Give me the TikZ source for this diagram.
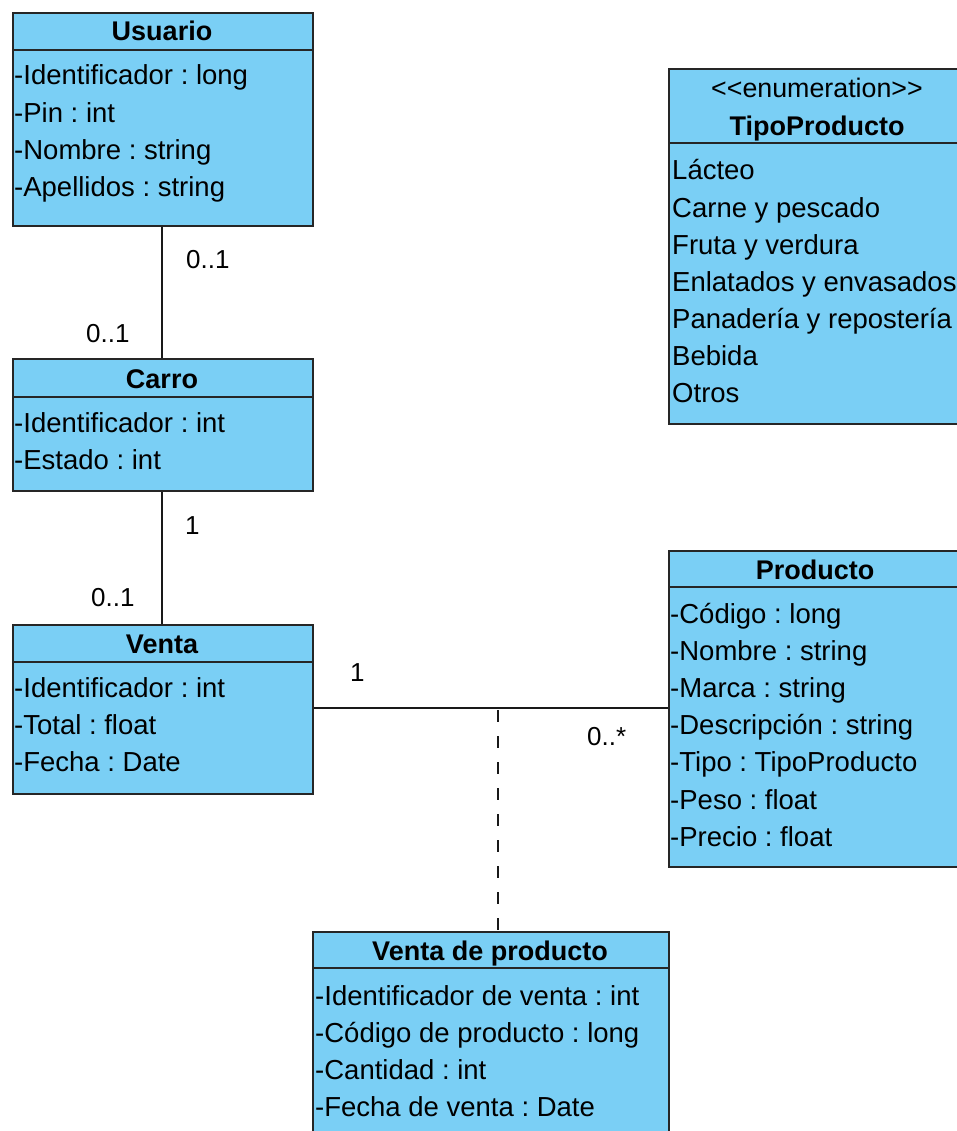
\documentclass[tikz,border=0pt]{standalone}
\usepackage{fontspec}
\setmainfont{Liberation Sans}
\frenchspacing
\begin{document}
\begin{tikzpicture}[x=1pt,y=-1pt,
  classbox/.style={draw=black!85, line width=2pt, fill=classfill, rectangle, inner sep=0pt, anchor=north west},
  divider/.style={draw=black!85, line width=2pt},
  attr/.style={anchor=base west, inner sep=0pt, font=\fontsize{27.5}{32}\selectfont},
  ctitle/.style={anchor=base, inner sep=0pt, font=\fontsize{27}{32}\selectfont\bfseries},
  stereo/.style={anchor=base, inner sep=0pt, font=\fontsize{26.8}{30}\selectfont},
  mult/.style={anchor=base west, inner sep=0pt, font=\fontsize{26}{30}\selectfont},
  assoc/.style={draw=black!90, line width=2pt},
  assocclass/.style={draw=black!90, line width=2pt, dash pattern=on 12pt off 14pt}]
\definecolor{classfill}{RGB}{122,207,245}
\clip (0,0) rectangle (957,1131);
\fill[white] (0,0) rectangle (957,1131);

% ---------- Usuario ----------
\node[classbox, minimum width=300pt, minimum height=213pt] (usuario) at (12,12) {};
\draw[divider] (usuario.west |- 0,50) -- (usuario.east |- 0,50);
\node[ctitle] (usuario-t) at (162,41) {Usuario};
\foreach \t [count=\i] in {-Identificador : long, -Pin : int, -Nombre : string, -Apellidos : string}
  \node[attr] (usuario-a\i) at (14,{85+37.3*(\i-1)}) {\t};

% ---------- Carro ----------
\node[classbox, minimum width=300pt, minimum height=132pt] (carro) at (12,358) {};
\draw[divider] (carro.west |- 0,397) -- (carro.east |- 0,397);
\node[ctitle] (carro-t) at (162,388) {Carro};
\foreach \t [count=\i] in {-Identificador : int, -Estado : int}
  \node[attr] (carro-a\i) at (14,{432+37.3*(\i-1)}) {\t};

% ---------- Venta ----------
\node[classbox, minimum width=300pt, minimum height=169pt] (venta) at (12,624) {};
\draw[divider] (venta.west |- 0,662) -- (venta.east |- 0,662);
\node[ctitle] (venta-t) at (162,653) {Venta};
\foreach \t [count=\i] in {-Identificador : int, -Total : float, -Fecha : Date}
  \node[attr] (venta-a\i) at (14,{697+37.3*(\i-1)}) {\t};

% ---------- TipoProducto (enumeration) ----------
\node[classbox, minimum width=300pt, minimum height=355pt] (tipo) at (668,68) {};
\draw[divider] (tipo.west |- 0,143) -- (tipo.east |- 0,143);
\node[stereo] (tipo-s) at (817,98) {<{}<enumeration>{}>};
\node[ctitle] (tipo-t) at (817,136) {TipoProducto};
\foreach \t [count=\i] in {Lácteo, Carne y pescado, Fruta y verdura, Enlatados y envasados, Panadería y repostería, Bebida, Otros}
  \node[attr] (tipo-a\i) at (672,{180+37.1*(\i-1)}) {\t};

% ---------- Producto ----------
\node[classbox, minimum width=300pt, minimum height=316pt] (producto) at (668,550) {};
\draw[divider] (producto.west |- 0,587) -- (producto.east |- 0,587);
\node[ctitle] (producto-t) at (815,579) {Producto};
\foreach \t [count=\i] in {-Código : long, -Nombre : string, -Marca : string, -Descripción : string, -Tipo : TipoProducto, -Peso : float, -Precio : float}
  \node[attr] (producto-a\i) at (670,{623+37.2*(\i-1)}) {\t};

% ---------- Venta de producto (association class) ----------
\node[classbox, minimum width=356pt, minimum height=230pt] (vdp) at (312,931) {};
\draw[divider] (vdp.west |- 0,968) -- (vdp.east |- 0,968);
\node[ctitle] (vdp-t) at (490,960) {Venta de producto};
\foreach \t [count=\i] in {-Identificador de venta : int, -Código de producto : long, -Cantidad : int, -Fecha de venta : Date}
  \node[attr] (vdp-a\i) at (315,{1005+37*(\i-1)}) {\t};

% ---------- Associations ----------
\draw[assoc] ([xshift=-1pt]usuario.south) -- ([xshift=-1pt]carro.north);
\node[mult] (m-uc1) at (186,269) {0..1};
\node[mult] (m-uc2) at (86,342) {0..1};

\draw[assoc] ([xshift=-1pt]carro.south) -- ([xshift=-1pt]venta.north);
\node[mult] (m-cv1) at (185,534) {1};
\node[mult] (m-cv2) at (91,606) {0..1};

\draw[assoc] (venta.east |- 0,708) -- (producto.west |- 0,708);
\node[mult] (m-vp1) at (350,681) {1};
\node[mult] (m-vp2) at (587,745) {0..*};

\coordinate (vp-link) at (498,710);
\draw[assocclass] (vp-link) -- (vp-link |- vdp.north);
\end{tikzpicture}
\end{document}
